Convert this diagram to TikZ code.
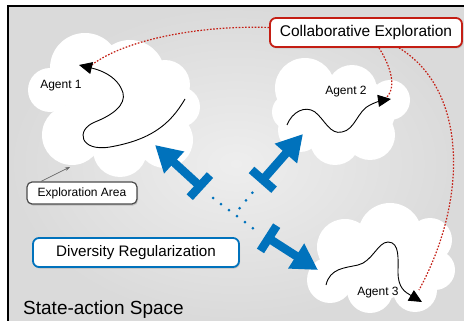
\documentclass[tikz,border=0pt]{standalone}
\usepackage{fontspec}
\setmainfont{Liberation Sans}
\usetikzlibrary{arrows.meta,shadows}
\definecolor{myblue}{RGB}{0,114,188}
\definecolor{myred}{RGB}{196,30,20}
\definecolor{bgout}{RGB}{218,218,218}
\definecolor{bgin}{RGB}{238,238,238}
\begin{document}
\begin{tikzpicture}[x=1pt,y=-1pt,
  puff/.style={fill=white},
  labelbox/.style={draw, fill=white, rounded corners=6pt, line width=1.8pt, inner sep=0pt,
    drop shadow={shadow xshift=1pt, shadow yshift=-1.5pt, opacity=0.35}},
  agentpath/.style={line width=0.9pt, -{Triangle[length=13pt,width=12pt]}},
  coop/.style={myred, line width=1.2pt, dash pattern=on 1.6pt off 1.6pt},
  bluearrow/.style={myblue, line width=8.5pt, {Bar[width=30pt]}-{Triangle[length=26pt,width=28pt]}},
  bluedots/.style={myblue, line width=3pt, line cap=round, dash pattern=on 0pt off 10pt},
  agentlabel/.style={font=\fontsize{12}{14}\selectfont, inner sep=0pt}
]
\useasboundingbox (0,0) rectangle (464,321);
\fill[white] (0,0) rectangle (464,321);
\shade[inner color=bgin, outer color=bgout] (8,6) rectangle (464,321);
\draw[line width=2.4pt] (8.2,321) -- (8.2,6.2) -- (464,6.2);

% clouds
\foreach \x/\y/\r in {85/68/35, 130/75/35, 165/85/25, 180/107/20, 165/140/28,
    120/150/27, 72/135/30, 50/90/22, 110/110/45, 148/115/35}
  \fill[puff] (\x,\y) circle[radius=\r pt];
\foreach \x/\y/\r in {305/88/30, 352/90/25, 390/100/20, 370/135/25, 335/140/25,
    300/130/22, 290/112/18, 335/112/35, 365/112/30}
  \fill[puff] (\x,\y) circle[radius=\r pt];
\foreach \x/\y/\r in {345/247/28, 390/235/32, 430/240/22, 435/270/20, 415/290/22,
    370/290/23, 330/280/23, 380/265/35, 410/262/30}
  \fill[puff] (\x,\y) circle[radius=\r pt];

% nodes
\node[labelbox, draw=myred, minimum width=192pt, minimum height=29pt,
  font=\fontsize{15.5}{18}\selectfont] (collab) at (366,32.5) {Collaborative Exploration};
\node[labelbox, draw=myblue, minimum width=206pt, minimum height=29pt,
  font=\fontsize{15.2}{18}\selectfont] (div) at (136,252.5) {Diversity Regularization};
\node[labelbox, draw=black!70, line width=1.2pt, rounded corners=5pt, minimum width=110pt,
  minimum height=22pt, font=\fontsize{12}{14}\selectfont] (ea) at (82,193) {Exploration Area};
\node[anchor=base west, inner sep=0pt, font=\fontsize{19}{22}\selectfont] (sas) at (23,314) {State-action Space};

\node[agentlabel] (l1) at (61,86) {Agent 1};
\node[agentlabel] (l2) at (346,92) {Agent 2};
\node[agentlabel] (l3) at (378,293) {Agent 3};

% coordinates
\coordinate (a1s) at (185,99);
\coordinate (a1t) at (79,65);
\coordinate (a2s) at (287,125);
\coordinate (a2t) at (391,99);
\coordinate (a3s) at (326,285);
\coordinate (a3t) at (422,302);
\coordinate (eat) at (70,167);
\coordinate (b1s) at (203,189);
\coordinate (b1t) at (155,145);
\coordinate (b2s) at (260,183);
\coordinate (b2t) at (303,134);
\coordinate (b3s) at (265,236);
\coordinate (b3t) at (318,270);

% red dotted connectors
\draw[coop] ([yshift=5pt]collab.west) .. controls (200,25) and (120,40) .. (88,68);
\draw[coop] ([xshift=13pt]collab.south) .. controls (388,62) and (398,85) .. (387,97);
\draw[coop] ([xshift=33pt]collab.south) .. controls (468,90) and (468,200) .. (419,290);

% agent trajectories
\draw[agentpath] (a1s) .. controls (170,125) and (150,140) .. (110,147)
  .. controls (80,152) and (75,130) .. (95,122)
  .. controls (120,112) and (128,100) .. (121,88)
  .. controls (117,80) and (108,72) .. (a1t);
\draw[agentpath] (a2s) .. controls (292,112) and (305,105) .. (315,112)
  .. controls (325,120) and (330,135) .. (342,132)
  .. controls (355,130) and (358,110) .. (370,105)
  .. controls (378,101) and (384,100) .. (a2t);
\draw[agentpath] (a3s) .. controls (330,268) and (345,268) .. (358,265)
  .. controls (372,262) and (378,242) .. (388,242)
  .. controls (400,242) and (398,260) .. (398,272)
  .. controls (398,288) and (405,292) .. (a3t);

% pointer
\draw[black!60, line width=0.7pt, -{Stealth[length=5pt,width=3.5pt]}] ([xshift=-41pt]ea.north) -- (eat);

% blue arrows
\draw[bluearrow] (b1s) -- (b1t);
\draw[bluearrow] (b2s) -- (b2t);
\draw[bluearrow] (b3s) -- (b3t);
\draw[bluedots] (213,198) -- (254,229);
\draw[bluedots] (252.3,192.7) -- (239,209);
\end{tikzpicture}
\end{document}
